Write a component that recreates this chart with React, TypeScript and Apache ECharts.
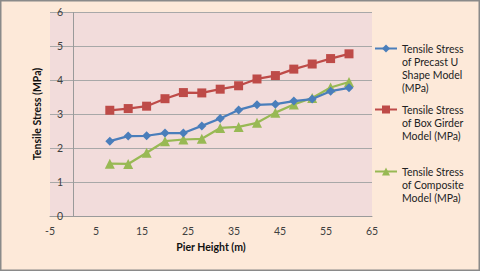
import React, { useEffect, useRef } from "react";
import * as echarts from "echarts";

const pierHeight = [8, 12, 16, 20, 24, 28, 32, 36, 40, 44, 48, 52, 56, 60];
const precastU = [2.2, 2.35, 2.36, 2.44, 2.44, 2.65, 2.87, 3.12, 3.27, 3.29, 3.38, 3.44, 3.67, 3.77];
const boxGirder = [3.11, 3.16, 3.23, 3.45, 3.63, 3.62, 3.73, 3.83, 4.03, 4.13, 4.32, 4.47, 4.63, 4.77];
const composite = [1.54, 1.53, 1.86, 2.2, 2.25, 2.27, 2.59, 2.62, 2.74, 3.04, 3.28, 3.47, 3.78, 3.94];
const xTicks = [-5, 5, 15, 25, 35, 45, 55, 65];
const seriesNames = [
  "Tensile Stress of Precast U Shape Model (MPa)",
  "Tensile Stress of Box Girder Model (MPa)",
  "Tensile Stress of Composite Model (MPa)",
];
const legendLines = [
  ["Tensile Stress", "of Precast U", "Shape Model", "(MPa)"],
  ["Tensile Stress", "of Box Girder", "Model (MPa)"],
  ["Tensile Stress", "of Composite", "Model (MPa)"],
];
const colors = ["#4a7ebb", "#be4b48", "#98b954"];
const symbols = ["diamond", "rect", "triangle"];
const symbolSizes = [9, 9, 10];

const FONT = "Lato, 'Noto Sans', sans-serif";
const LH = 13;

export default function App() {
  const ref = useRef<HTMLDivElement>(null);
  useEffect(() => {
    document.body.style.margin = "0";
    const chart = echarts.init(ref.current!, undefined, { renderer: "svg" });
    const dataSets = [precastU, boxGirder, composite];
    const legendTops = [48.5, 109.5, 171.5];
    chart.setOption({
      animation: false,
      backgroundColor: "#fde9d9",
      textStyle: { fontFamily: FONT },
      graphic: [
        {
          type: "rect",
          shape: { x: 0.75, y: 0.75, width: 478.5, height: 269.5 },
          style: { fill: "none", stroke: "#8a8a8a", lineWidth: 1.5 },
          silent: true,
        },
      ],
      grid: {
        left: 50,
        right: 108,
        top: 12,
        bottom: 55,
        show: true,
        backgroundColor: "#f2dcdb",
        borderWidth: 0,
      },
      legend: seriesNames.map((name, i) => {
        const n = legendLines[i].length;
        const blockH = (2 * n - 1) * LH;
        return {
          data: [name],
          left: 374,
          top: legendTops[i] - blockH / 2,
          padding: 0,
          itemWidth: 22,
          itemHeight: 10,
          itemGap: 0,
          selectedMode: false,
          formatter: () => " \n".repeat(n - 1) + legendLines[i].join("\n"),
          textStyle: {
            fontFamily: FONT,
            fontSize: 10.5,
            color: "#222",
            lineHeight: LH,
          },
        };
      }),
      xAxis: {
        type: "value",
        min: -5,
        max: 65,
        name: "Pier Height (m)",
        nameLocation: "middle",
        nameGap: 25,
        nameTextStyle: { fontFamily: FONT, fontSize: 10.5, fontWeight: "bold", color: "#111" },
        axisLine: { show: true, onZero: false, lineStyle: { color: "#9a9a9a", width: 1 } },
        axisTick: { show: false, customValues: xTicks },
        axisLabel: { customValues: xTicks, fontFamily: FONT, fontSize: 10.5, color: "#404040", margin: 9 },
        splitLine: { show: false },
      },
      yAxis: {
        type: "value",
        min: 0,
        max: 6,
        interval: 1,
        name: "Tensile Stress (MPa)",
        nameLocation: "middle",
        nameGap: 3,
        nameTextStyle: { fontFamily: FONT, fontSize: 10.5, fontWeight: "bold", color: "#111" },
        axisLine: { show: false, onZero: false },
        axisTick: { show: false },
        axisLabel: { fontFamily: FONT, fontSize: 10.5, color: "#404040", margin: -13 },
        splitLine: { show: true, lineStyle: { color: "#a8a8a8", width: 1 } },
      },
      series: seriesNames.map((name, i) => ({
        name,
        type: "line",
        data: pierHeight.map((x, j) => [x, dataSets[i][j]]),
        symbol: symbols[i],
        symbolSize: symbolSizes[i],
        showSymbol: true,
        lineStyle: { color: colors[i], width: 2.25 },
        itemStyle: { color: colors[i] },
        z: 3 - i === 0 ? 1 : 3 - i,
        markLine:
          i === 0
            ? {
                silent: true,
                symbol: "none",
                label: { show: false },
                lineStyle: { color: "#9a9a9a", width: 1, type: "solid" },
                data: [{ xAxis: 0 }],
              }
            : undefined,
      })),
    });
    return () => chart.dispose();
  }, []);
  return <div ref={ref} style={{ position: "fixed", left: 0, top: 0, width: 480, height: 271 }} />;
}
